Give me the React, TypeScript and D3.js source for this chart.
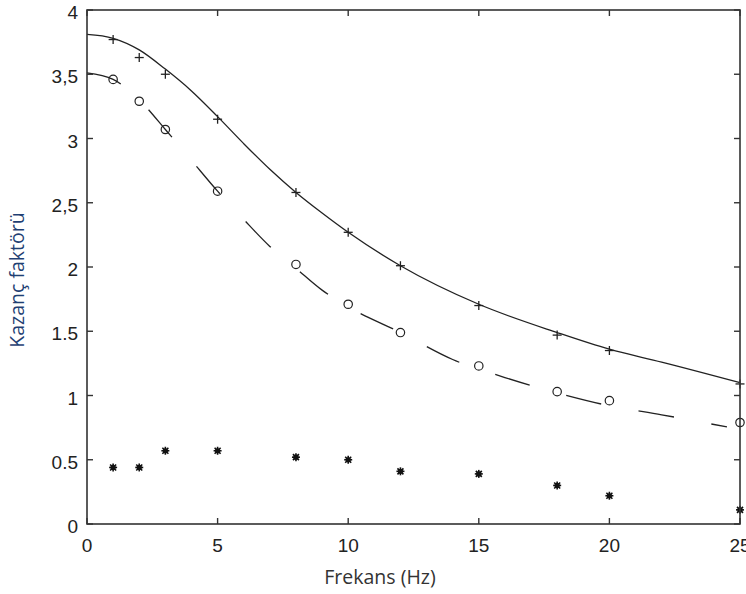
import React from "react";
import * as d3 from "d3";

const xTicks = [0, 5, 10, 15, 20, 25];
const yTicks = [0, 0.5, 1, 1.5, 2, 2.5, 3, 3.5, 4];
const yTickLabels = ["0", "0.5", "1", "1.5", "2", "2,5", "3", "3,5", "4"];

const freqs = [1, 2, 3, 5, 8, 10, 12, 15, 18, 20, 25];
const plusValues = [3.77, 3.63, 3.5, 3.15, 2.58, 2.27, 2.01, 1.7, 1.47, 1.35, 1.09];
const circleValues = [3.46, 3.29, 3.07, 2.59, 2.02, 1.71, 1.49, 1.23, 1.03, 0.96, 0.79];
const starValues = [0.44, 0.44, 0.57, 0.57, 0.52, 0.5, 0.41, 0.39, 0.3, 0.22, 0.11];

const solidX = [0, 1, 2, 3, 4, 5, 6, 7, 8, 9, 10, 12, 15, 18, 20, 22, 25];
const solidY = [3.81, 3.78, 3.69, 3.54, 3.37, 3.17, 2.96, 2.76, 2.58, 2.42, 2.27, 2.01, 1.71, 1.49, 1.36, 1.26, 1.1];

const dashX = [0, 1, 2, 3, 4, 5, 6, 7, 8, 9, 10, 12, 14, 16, 18, 20, 22, 24.5];
const dashY = [3.51, 3.46, 3.3, 3.07, 2.83, 2.59, 2.37, 2.16, 1.99, 1.82, 1.69, 1.49, 1.28, 1.14, 1.02, 0.92, 0.85, 0.755];

const W = 746;
const H = 594;
const left = 87;
const right = 740;
const top = 10;
const bottom = 524;

export default function App() {
  const x = d3.scaleLinear().domain([0, 25]).range([left, right]);
  const y = d3.scaleLinear().domain([0, 4]).range([bottom, top]);

  const line = d3
    .line<[number, number]>()
    .x((d) => x(d[0]))
    .y((d) => y(d[1]))
    .curve(d3.curveMonotoneX);

  const solidPath = line(solidX.map((v, i) => [v, solidY[i]] as [number, number])) || "";
  const dashPath = line(dashX.map((v, i) => [v, dashY[i]] as [number, number])) || "";

  const axisColor = "#333";
  const tickLen = 6;

  return (
    <svg
      width={W}
      height={H}
      style={{ position: "absolute", left: 0, top: 0, background: "#fff" }}
    >
      <rect x={0} y={0} width={W} height={H} fill="#fff" />
      {/* curves */}
      <path d={solidPath} fill="none" stroke="#222" strokeWidth={1.3} />
      <path
        d={dashPath}
        fill="none"
        stroke="#222"
        strokeWidth={1.3}
        strokeDasharray="36,38"
      />
      {/* plus markers */}
      {freqs.map((f, i) => (
        <g key={"p" + i} transform={`translate(${x(f)},${y(plusValues[i])})`} stroke="#222" strokeWidth={1.3}>
          <line x1={-4.5} x2={4.5} y1={0} y2={0} />
          <line x1={0} x2={0} y1={-4.5} y2={4.5} />
        </g>
      ))}
      {/* circle markers */}
      {freqs.map((f, i) => (
        <circle
          key={"c" + i}
          cx={x(f)}
          cy={y(circleValues[i])}
          r={4.2}
          fill="none"
          stroke="#222"
          strokeWidth={1.2}
        />
      ))}
      {/* star markers */}
      {freqs.map((f, i) => (
        <g key={"s" + i} transform={`translate(${x(f)},${y(starValues[i])})`} stroke="#111" strokeWidth={1.6}>
          <line x1={-4} x2={4} y1={0} y2={0} />
          <line x1={0} x2={0} y1={-4} y2={4} />
          <line x1={-3} x2={3} y1={-3} y2={3} />
          <line x1={-3} x2={3} y1={3} y2={-3} />
          <circle r={2.6} fill="#111" stroke="none" />
        </g>
      ))}
      {/* frame */}
      <rect
        x={left}
        y={top}
        width={right - left}
        height={bottom - top}
        fill="none"
        stroke={axisColor}
        strokeWidth={1.6}
      />
      {/* ticks */}
      {xTicks.map((t) => (
        <g key={"xt" + t}>
          <line x1={x(t)} x2={x(t)} y1={bottom} y2={bottom - tickLen} stroke={axisColor} strokeWidth={1.4} />
          <line x1={x(t)} x2={x(t)} y1={top} y2={top + tickLen} stroke={axisColor} strokeWidth={1.4} />
          <text
            x={x(t)}
            y={552}
            textAnchor="middle"
            fontFamily="Liberation Sans, Arial, sans-serif"
            fontSize={19}
            fill="#222"
          >
            {String(t)}
          </text>
        </g>
      ))}
      {yTicks.map((t, i) => (
        <g key={"yt" + t}>
          <line x1={left} x2={left + tickLen} y1={y(t)} y2={y(t)} stroke={axisColor} strokeWidth={1.4} />
          <line x1={right} x2={right - tickLen} y1={y(t)} y2={y(t)} stroke={axisColor} strokeWidth={1.4} />
          <text
            x={78}
            y={y(t) + 9}
            textAnchor="end"
            fontFamily="Liberation Sans, Arial, sans-serif"
            fontSize={19}
            fill="#222"
          >
            {yTickLabels[i]}
          </text>
        </g>
      ))}
      {/* axis titles */}
      <text
        x={380}
        y={584}
        textAnchor="middle"
        fontFamily="Open Sans, Noto Sans, sans-serif"
        fontSize={19.5}
        fill="#333"
      >
        Frekans (Hz)
      </text>
      <text
        transform={`translate(24,${280}) rotate(-90)`}
        textAnchor="middle"
        fontFamily="Open Sans, Noto Sans, sans-serif"
        fontSize={19.5}
        fill="#1f3f73"
      >
        Kazanç faktörü
      </text>
    </svg>
  );
}
